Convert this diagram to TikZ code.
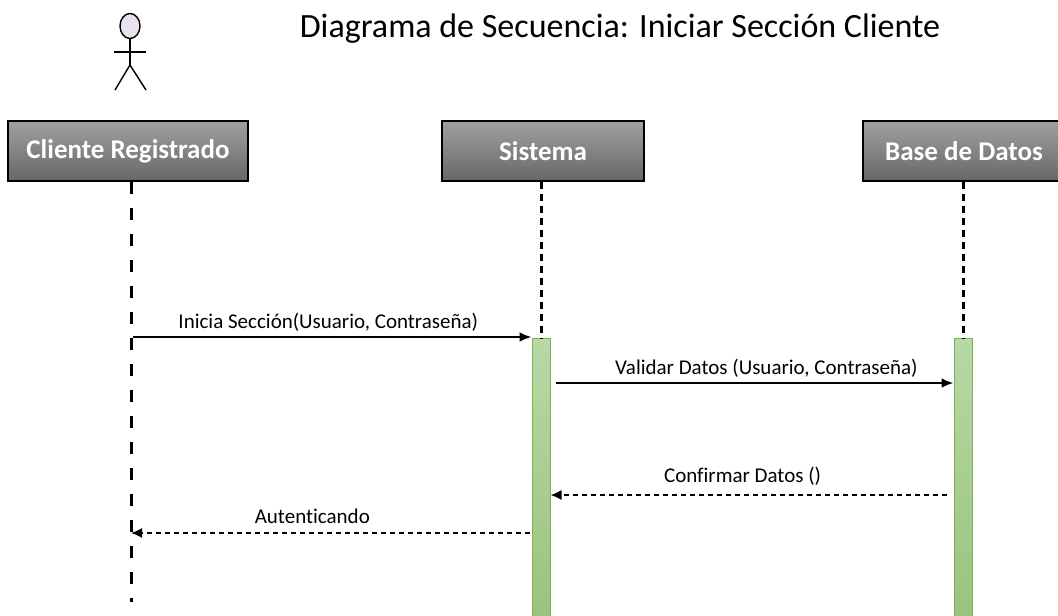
\documentclass[tikz,border=0pt]{standalone}
\usepackage{fontspec}
\setmainfont[Ligatures=NoCommon]{Carlito}
\usepackage{tikz}
\usepackage{xcolor}
\usetikzlibrary{calc,arrows.meta,shapes.geometric}

\definecolor{boxtop}{HTML}{A0A0A0}
\definecolor{boxbot}{HTML}{676767}
\definecolor{bartop}{HTML}{B8D8A5}
\definecolor{barbot}{HTML}{98C37B}
\definecolor{barline}{HTML}{7AB356}
\definecolor{headfill}{HTML}{E9E0F0}

\begin{document}
\begin{tikzpicture}[x=1pt,y=-1pt]
        \tikzstyle{obj}=[draw=black,line width=1.3pt,top color=boxtop,bottom color=boxbot,minimum height=60pt,inner sep=0pt,text=white,font=\fontsize{27}{29}\selectfont\bfseries]
        \tikzstyle{act}=[draw=barline,line width=1pt,top color=bartop,bottom color=barbot,minimum width=18pt,minimum height=290pt,inner sep=0pt,anchor=north]
        \tikzstyle{life}=[line width=3pt,dash pattern=on 7pt off 5pt]
        \tikzstyle{longlife}=[line width=3pt,dash pattern=on 12pt off 14pt]
        \tikzstyle{call}=[line width=2.8pt,-{Latex[length=12pt,width=10pt]}]
        \tikzstyle{reply}=[line width=1.6pt,dash pattern=on 5pt off 4pt,-{Latex[length=11pt,width=10pt]}]
        \tikzstyle{lbl}=[font=\fontsize{21}{23}\selectfont]
            \useasboundingbox (0,0) rectangle (1058,616);

            \node[font=\fontsize{34}{36}\selectfont,anchor=base] (title) at (620,37) {Diagrama de Secuencia: Iniciar Sección Cliente};

            % actor
            \node[draw,ellipse,line width=1.4pt,fill=headfill,minimum width=20pt,minimum height=25pt,inner sep=0pt] (head) at (130,26) {};
            \coordinate (hip) at (130,65);
            \draw[line width=1.4pt] (head.south) -- (hip);
            \draw[line width=1.4pt] (114,52) -- (146,52);
            \draw[line width=1.4pt] (115,90) -- (hip) -- (146,90);

            % objects
            \node[obj,minimum width=240pt] (cli) at (128,151) {Cliente Registrado};
            \node[obj,minimum width=202pt] (sis) at (543,151) {Sistema};
            \node[obj,minimum width=202pt] (bd) at (964,151) {Base de Datos};

            % activations
            \node[act] (actS) at (541,338) {};
            \node[act] (actB) at (963,338) {};

            \coordinate (cliEnd) at (131,602);
            \draw[longlife] (cli.south -| cliEnd) -- (cliEnd);
            \draw[life] (sis.south -| actS) -- (actS.north);
            \draw[life] (bd.south -| actB) -- (actB.north);

            % messages
            \coordinate (m1) at (133,337);
            \draw[call] (m1) -- (m1 -| actS.west) node[lbl,pos=0.49,above=1pt] {Inicia Sección(Usuario, Contraseña)};
            \draw[call] ($(actS.north east)+(5,45)$) coordinate (m2) -- (m2 -| actB.west) node[lbl,pos=0.53,above=1pt] {Validar Datos (Usuario, Contraseña)};
            \draw[reply] ($(actB.north west)+(-7,157)$) coordinate (m3) -- (m3 -| actS.east) node[lbl,pos=0.515,above=5pt] {Confirmar Datos ()};
            \draw[reply] ($(actS.north west)+(-2,195)$) coordinate (m4) -- (m4 -| cliEnd) node[lbl,pos=0.545,above=5pt] {Autenticando};

        \end{tikzpicture}
\end{document}
